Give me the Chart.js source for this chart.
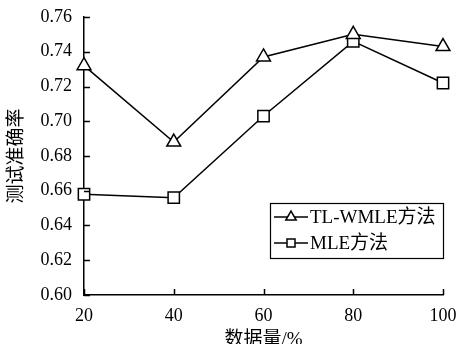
<!DOCTYPE html>
<html>
<head>
<meta charset="utf-8">
<script src="https://cdn.jsdelivr.net/npm/chart.js@4.4.0/dist/chart.umd.min.js"></script>
<style>
html, body { margin: 0; padding: 0; background: #fff; }
#wrap { width: 460px; height: 344px; }
</style>
</head>
<body>
<div id="wrap"><canvas id="chart" width="460" height="344"></canvas></div>
<script>
// Data
const dataSizes = [20, 40, 60, 80, 100];
const tlwmleAcc = [0.732, 0.688, 0.737, 0.750, 0.743];
const mleAcc = [0.658, 0.656, 0.703, 0.746, 0.722];
const seriesNames = ['TL-WMLE方法', 'MLE方法'];
const yTickLabels = ['0.60', '0.62', '0.64', '0.66', '0.68', '0.70', '0.72', '0.74', '0.76'];
const xTitle = '数据量/%';
const yTitle = '测试准确率';

const serif = "'Liberation Serif', 'Times New Roman', 'Noto Sans CJK SC', serif";

// Draw small ticks pointing into the plot area
const innerTicks = {
    id: 'innerTicks',
    afterDraw(chart) {
        const ctx = chart.ctx;
        const area = chart.chartArea;
        const x = chart.scales.x;
        const y = chart.scales.y;
        ctx.save();
        ctx.strokeStyle = '#000';
        ctx.lineWidth = 1.5;
        ctx.beginPath();
        y.ticks.forEach(t => {
            const py = Math.round(y.getPixelForValue(t.value)) + 0.5;
            ctx.moveTo(area.left, py);
            ctx.lineTo(area.left + 6, py);
        });
        x.ticks.forEach(t => {
            const px = Math.round(x.getPixelForValue(t.value)) + 0.5;
            ctx.moveTo(px, area.bottom);
            ctx.lineTo(px, area.bottom - 6);
        });
        ctx.stroke();
        ctx.restore();
    }
};

// Boxed legend with line + marker samples
const boxLegend = {
    id: 'boxLegend',
    afterDraw(chart) {
        const ctx = chart.ctx;
        const left = 270, top = 203, width = 173, height = 55;
        ctx.save();
        ctx.fillStyle = '#fff';
        ctx.fillRect(left, top, width, height);
        ctx.strokeStyle = '#000';
        ctx.lineWidth = 1.2;
        ctx.strokeRect(left + 0.5, top + 0.5, width, height);

        ctx.font = '19px ' + serif;
        ctx.textBaseline = 'middle';
        ctx.fillStyle = '#000';
        chart.data.datasets.forEach((ds, i) => {
            const cy = top + 14 + i * 26;
            const cx = left + 21;
            ctx.lineWidth = 1.5;
            ctx.beginPath();
            ctx.moveTo(left + 4, cy);
            ctx.lineTo(left + 38, cy);
            ctx.stroke();
            ctx.beginPath();
            if (ds.pointStyle === 'triangle') {
                const r = 6;
                ctx.moveTo(cx, cy - r);
                ctx.lineTo(cx + r * 0.866, cy + r * 0.5);
                ctx.lineTo(cx - r * 0.866, cy + r * 0.5);
                ctx.closePath();
            } else {
                ctx.rect(cx - 4, cy - 4, 8, 8);
            }
            ctx.fillStyle = '#fff';
            ctx.fill();
            ctx.stroke();
            ctx.fillStyle = '#000';
            ctx.fillText(ds.label, left + 40, cy + 1);
        });
        ctx.restore();
    }
};

const ctx = document.getElementById('chart').getContext('2d');
new Chart(ctx, {
    type: 'line',
    data: {
        datasets: [
            {
                label: seriesNames[0],
                data: dataSizes.map((s, i) => ({ x: s, y: tlwmleAcc[i] })),
                borderColor: '#000',
                borderWidth: 1.5,
                pointStyle: 'triangle',
                pointRadius: 8,
                pointBorderWidth: 1.5,
                pointBorderColor: '#000',
                pointBackgroundColor: '#fff',
                clip: false,
                tension: 0
            },
            {
                label: seriesNames[1],
                data: dataSizes.map((s, i) => ({ x: s, y: mleAcc[i] })),
                borderColor: '#000',
                borderWidth: 1.5,
                pointStyle: 'rect',
                pointRadius: 8,
                pointBorderWidth: 1.5,
                pointBorderColor: '#000',
                pointBackgroundColor: '#fff',
                clip: false,
                tension: 0
            }
        ]
    },
    options: {
        responsive: false,
        animation: false,
        devicePixelRatio: 1,
        layout: { padding: { left: 0, right: 17, top: 17, bottom: 0 } },
        plugins: {
            legend: { display: false },
            tooltip: { enabled: false }
        },
        scales: {
            x: {
                type: 'linear',
                min: 20,
                max: 100,
                ticks: {
                    stepSize: 20,
                    color: '#000',
                    padding: 10,
                    font: { family: serif, size: 18 }
                },
                grid: { display: false, drawTicks: false },
                border: { display: true, color: '#000', width: 1.5 },
                title: {
                    display: true,
                    text: xTitle,
                    color: '#000',
                    padding: { top: 0, bottom: -7 },
                    font: { family: serif, size: 19 }
                },
                afterFit(scale) {
                    scale.height = 49;
                    scale.paddingLeft = 0;
                    scale.paddingRight = 0;
                }
            },
            y: {
                min: 0.6,
                max: 0.76,
                ticks: {
                    stepSize: 0.02,
                    color: '#000',
                    padding: 12,
                    font: { family: serif, size: 18 },
                    callback: (v, i) => yTickLabels[i]
                },
                grid: { display: false, drawTicks: false },
                border: { display: true, color: '#000', width: 1.5 },
                title: {
                    display: true,
                    text: yTitle,
                    color: '#000',
                    padding: { top: 6, bottom: 0 },
                    font: { family: serif, size: 19 }
                },
                afterFit(scale) {
                    scale.width = 84;
                    scale.paddingTop = 0;
                    scale.paddingBottom = 0;
                }
            }
        }
    },
    plugins: [innerTicks, boxLegend]
});
</script>
</body>
</html>
